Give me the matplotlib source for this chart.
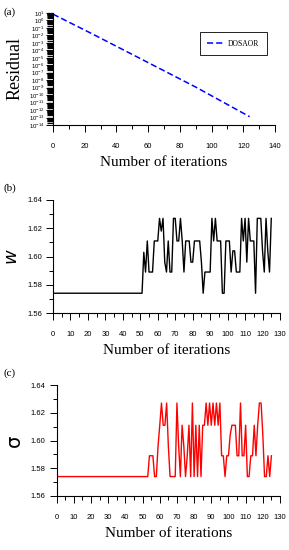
import matplotlib
matplotlib.use("Agg")
import matplotlib.pyplot as plt
from matplotlib.ticker import LogLocator, MultipleLocator, NullFormatter
import numpy as np

# (a) residual del DOSAOR
res_iter = [0, 25, 55, 90, 124]
res_val = [7.0, 1.5e-2, 8e-6, 1.2e-9, 1.3e-13]

# (b) parametro w por iteracion (vertices de la linea)
w_iter = [1, 51, 52, 53, 54, 55, 56, 57, 58, 59, 60, 61, 62, 63, 64, 65, 66, 67,
          68, 69, 70, 71, 72, 73, 74, 75, 76, 77, 78, 79, 80, 81, 82, 83, 84, 85,
          86, 87, 88, 89, 90, 91, 92, 93, 94, 95, 96, 97, 98, 99, 100, 101, 102,
          103, 104, 105, 106, 107, 108, 109, 110, 111, 112, 113, 114, 115, 116,
          117, 118, 119, 120, 121, 122, 123, 124, 125]
w_val = [1.574, 1.574, 1.603, 1.589, 1.611, 1.589, 1.589, 1.589, 1.611, 1.611,
         1.611, 1.627, 1.618, 1.627, 1.596, 1.589, 1.611, 1.589, 1.589, 1.627,
         1.627, 1.611, 1.611, 1.627, 1.611, 1.589, 1.611, 1.611, 1.611, 1.596,
         1.596, 1.611, 1.611, 1.611, 1.611, 1.596, 1.574, 1.589, 1.589, 1.589,
         1.589, 1.627, 1.611, 1.627, 1.611, 1.611, 1.611, 1.574, 1.574, 1.611,
         1.611, 1.611, 1.589, 1.604, 1.604, 1.589, 1.589, 1.589, 1.627, 1.611,
         1.627, 1.596, 1.627, 1.611, 1.611, 1.611, 1.574, 1.627, 1.627, 1.627,
         1.604, 1.589, 1.627, 1.604, 1.589, 1.627]

# (c) parametro sigma por iteracion (vertices de la linea)
s_iter = [1, 53, 54, 55, 56, 57, 58, 59, 60, 61, 62, 63, 64, 65, 66, 67, 68, 69,
          70, 71, 72, 73, 74, 75, 76, 77, 78, 79, 80, 81, 82, 83, 84, 85, 86, 87,
          88, 89, 90, 91, 92, 93, 94, 95, 96, 97, 98, 99, 100, 101, 102, 103, 104,
          105, 106, 107, 108, 109, 110, 111, 112, 113, 114, 115, 116, 117, 118,
          119, 120, 121, 122, 123, 124, 125]
s_val = [1.574, 1.574, 1.589, 1.589, 1.589, 1.574, 1.574, 1.596, 1.611, 1.627,
         1.611, 1.611, 1.627, 1.596, 1.574, 1.574, 1.574, 1.574, 1.627, 1.596,
         1.574, 1.611, 1.596, 1.574, 1.589, 1.611, 1.574, 1.627, 1.574, 1.611,
         1.574, 1.611, 1.574, 1.611, 1.611, 1.627, 1.611, 1.627, 1.611, 1.627,
         1.611, 1.627, 1.611, 1.627, 1.589, 1.589, 1.574, 1.589, 1.589, 1.604,
         1.611, 1.611, 1.611, 1.589, 1.589, 1.627, 1.589, 1.589, 1.611, 1.574,
         1.574, 1.589, 1.589, 1.611, 1.589, 1.611, 1.627, 1.627, 1.604, 1.574,
         1.574, 1.589, 1.574, 1.589]

W, H = 289, 550
serif = ["Liberation Serif", "DejaVu Serif"]
narrow = ["Liberation Sans Narrow", "Liberation Sans", "DejaVu Sans"]


def px_axes(fig, x0, x1, ytop, ybot):
    return fig.add_axes([x0 / W, 1 - ybot / H, (x1 - x0) / W, (ybot - ytop) / H])


def estilo(ax):
    for s in ["top", "right"]:
        ax.spines[s].set_visible(False)
    for s in ["left", "bottom"]:
        ax.spines[s].set_linewidth(0.8)
    ax.tick_params(which="both", direction="out", width=0.7, labelsize=5.5)
    ax.tick_params(which="major", length=5)
    ax.tick_params(which="minor", length=3)
    ax.tick_params(axis="x", pad=8)
    ax.tick_params(axis="y", pad=3)
    for lab in ax.get_xticklabels() + ax.get_yticklabels():
        lab.set_family(narrow)


fig = plt.figure(figsize=(W / 100, H / 100), dpi=100)

# ---- (a)
ax = px_axes(fig, 53, 275, 13, 125)
ax.semilogy(res_iter, res_val, color="#0000FF", lw=1.1, ls=(0, (4, 2)), label="DOSAOR")
ax.set_xlim(0, 140)
ax.set_ylim(1e-14, 1e1)
ax.xaxis.set_major_locator(MultipleLocator(20))
ax.xaxis.set_minor_locator(MultipleLocator(10))
ax.yaxis.set_major_locator(LogLocator(base=10, numticks=100))
ax.yaxis.set_minor_locator(LogLocator(base=10, subs=np.arange(2, 10), numticks=100))
ax.yaxis.set_minor_formatter(NullFormatter())
estilo(ax)
ax.tick_params(axis="y", which="major", labelsize=4.3, length=5, pad=1)
ax.tick_params(axis="y", which="minor", length=4, width=0.9)
ax.set_xlabel("Number of iterations", family=serif, fontsize=11, labelpad=4)
ax.set_ylabel("Residual", family=serif, fontsize=13, labelpad=4)
leg = ax.legend(loc="upper right", bbox_to_anchor=(0.964, 0.83), borderaxespad=0,
                fancybox=False, edgecolor="black", framealpha=1,
                prop={"family": serif, "size": 5.5},
                handlelength=2.2, handletextpad=0.5, borderpad=1.0)
leg.get_frame().set_linewidth(0.6)
fig.text(3 / W, 1 - 12 / H, "(a)", family=serif, fontsize=8, va="center")

# ---- (b)
ax = px_axes(fig, 53, 280, 200, 313)
ax.plot(w_iter, w_val, color="black", lw=1.0)
ax.set_xlim(0, 130)
ax.set_ylim(1.56, 1.64)
ax.xaxis.set_major_locator(MultipleLocator(10))
ax.xaxis.set_minor_locator(MultipleLocator(5))
ax.yaxis.set_minor_locator(MultipleLocator(0.01))
ax.set_yticks([1.56, 1.58, 1.60, 1.62, 1.64])
ax.set_yticklabels(["1.56", "1.58", "1.60", "1.62", "1.64"])
estilo(ax)
ax.set_xlabel("Number of iterations", family=serif, fontsize=11, labelpad=4)
ax.set_ylabel(r"$w$", fontsize=13, labelpad=4)
fig.text(3 / W, 1 - 188 / H, "(b)", family=serif, fontsize=8, va="center")

# ---- (c)
ax = px_axes(fig, 56.7, 280, 385, 496)
ax.plot(s_iter, s_val, color="#FF0000", lw=1.0)
ax.set_xlim(0, 130)
ax.set_ylim(1.56, 1.64)
ax.xaxis.set_major_locator(MultipleLocator(10))
ax.xaxis.set_minor_locator(MultipleLocator(5))
ax.yaxis.set_minor_locator(MultipleLocator(0.01))
ax.set_yticks([1.56, 1.58, 1.60, 1.62, 1.64])
ax.set_yticklabels(["1.56", "1.58", "1.60", "1.62", "1.64"])
estilo(ax)
ax.set_xlabel("Number of iterations", family=serif, fontsize=11, labelpad=4)
ax.set_ylabel("σ", family=["DejaVu Sans"], fontsize=14, labelpad=5)
fig.text(3 / W, 1 - 373 / H, "(c)", family=serif, fontsize=8, va="center")

fig.savefig("out.png", dpi=100)
